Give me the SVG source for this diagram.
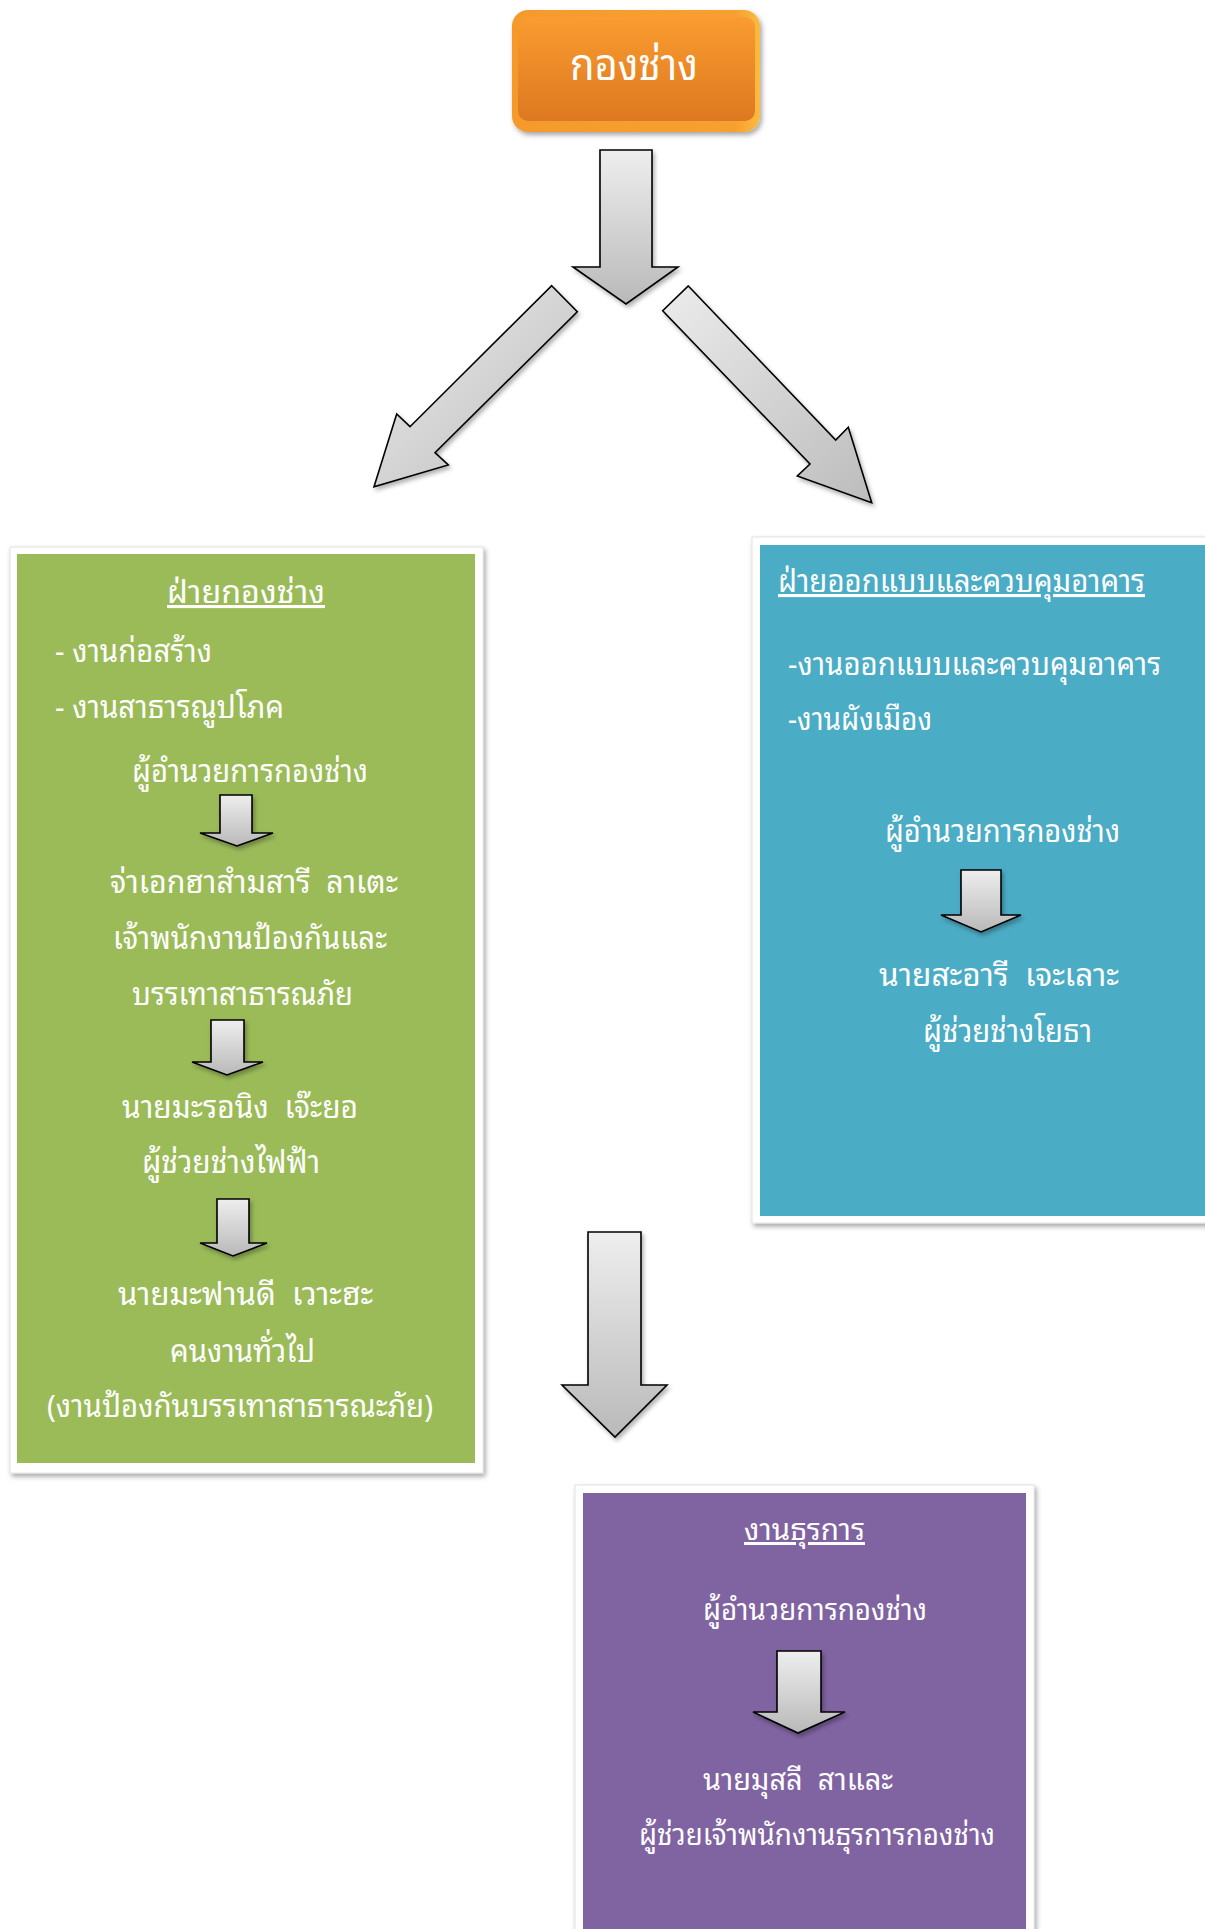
<svg xmlns="http://www.w3.org/2000/svg" width="1205" height="1929" viewBox="0 0 1205 1929">
<defs>
<linearGradient id="ag" x1="0" y1="0" x2="0" y2="1"><stop offset="0" stop-color="#eeeeee"/><stop offset="1" stop-color="#b9b9b9"/></linearGradient>
<linearGradient id="agd" x1="0" y1="0" x2="1" y2="1"><stop offset="0" stop-color="#ececec"/><stop offset="1" stop-color="#bcbcbc"/></linearGradient>
<linearGradient id="og" x1="0" y1="0" x2="0" y2="1"><stop offset="0" stop-color="#fa9c30"/><stop offset="1" stop-color="#dd7820"/></linearGradient>
<linearGradient id="orim" x1="0" y1="0" x2="1" y2="0"><stop offset="0" stop-color="#f59a2c"/><stop offset="0.9" stop-color="#f7a030"/><stop offset="1" stop-color="#fbbb40"/></linearGradient>
<filter id="sh" x="-10%" y="-10%" width="130%" height="130%"><feDropShadow dx="2" dy="3" stdDeviation="2.5" flood-color="#000" flood-opacity="0.35"/></filter>
<filter id="ash" x="-20%" y="-20%" width="150%" height="150%"><feDropShadow dx="2" dy="3" stdDeviation="2" flood-color="#000" flood-opacity="0.3"/></filter>
</defs>
<style>
.t{font-family:'Noto Sans Thai Looped','Garuda','Loma','Noto Sans Thai','Noto Sans','DejaVu Sans',sans-serif;fill:#ffffff;font-size:31px;white-space:pre}
.s{font-size:30px}
.big{font-size:44px}
.u{text-decoration:underline}
.arr{fill:url(#ag);stroke:#000;stroke-width:1.6;stroke-linejoin:miter;filter:url(#ash)}
.arrd{fill:url(#agd);stroke:#000;stroke-width:1.6;filter:url(#ash)}
.frame{fill:#ffffff;stroke:#e2e2e2;stroke-width:1;filter:url(#sh)}
</style>
<g id="connectors">
<polygon class="arr" points="600,150 652,150 652,267 678,267 626,304 573,267 600,267"/>
<polygon class="arrd" points="551.7,285.7 577.3,311.7 435,452.7 448.3,465 374,486.7 396.7,414 410,426.7"/>
<polygon class="arrd" points="688.3,286 835.7,440 848.3,427.3 871.7,502.7 797.3,476 810,464 662.7,310.7"/>
<polygon class="arr" points="588,1232 641,1232 641,1385 667,1385 615,1437 562,1385 588,1385"/>
</g>
<g id="node-top">
<rect x="512" y="10" width="248" height="122" rx="16" fill="url(#orim)" filter="url(#sh)"/>
<rect x="518" y="17" width="237" height="104" rx="10" fill="url(#og)"/>
<text class="t big" x="570" y="80" textLength="128" lengthAdjust="spacingAndGlyphs">กองช่าง</text>
</g>
<g id="node-green">
<rect class="frame" x="10" y="547" width="473" height="926"/>
<rect x="17" y="554" width="458" height="909" fill="#9bbb59"/>
<text class="t u" x="167" y="603" textLength="158" lengthAdjust="spacingAndGlyphs">ฝ่ายกองช่าง</text>
<text class="t" x="55" y="662" textLength="157" lengthAdjust="spacingAndGlyphs">- งานก่อสร้าง</text>
<text class="t" x="55" y="718" textLength="229" lengthAdjust="spacingAndGlyphs">- งานสาธารณูปโภค</text>
<text class="t" x="132" y="782" textLength="236" lengthAdjust="spacingAndGlyphs">ผู้อำนวยการกองช่าง</text>
<polygon class="arr" points="220,795 252,795 252,833 273,833 237,846 200,833 220,833"/>
<text class="t" x="110" y="893" textLength="288" lengthAdjust="spacingAndGlyphs">จ่าเอกฮาสำมสารี  ลาเตะ</text>
<text class="t" x="113" y="949" textLength="274" lengthAdjust="spacingAndGlyphs">เจ้าพนักงานป้องกันและ</text>
<text class="t" x="132" y="1005" textLength="221" lengthAdjust="spacingAndGlyphs">บรรเทาสาธารณภัย</text>
<polygon class="arr" points="211,1020 244,1020 244,1062 263,1062 227,1075 192,1062 211,1062"/>
<text class="t" x="122" y="1118" textLength="236" lengthAdjust="spacingAndGlyphs">นายมะรอนิง  เจ๊ะยอ</text>
<text class="t" x="142" y="1173" textLength="178" lengthAdjust="spacingAndGlyphs">ผู้ช่วยช่างไฟฟ้า</text>
<polygon class="arr" points="217,1199 249,1199 249,1243 267,1243 233,1256 200,1243 217,1243"/>
<text class="t" x="118" y="1305" textLength="255" lengthAdjust="spacingAndGlyphs">นายมะฟานดี  เวาะฮะ</text>
<text class="t" x="170" y="1362" textLength="145" lengthAdjust="spacingAndGlyphs">คนงานทั่วไป</text>
<text class="t" x="47" y="1417" textLength="386" lengthAdjust="spacingAndGlyphs">(งานป้องกันบรรเทาสาธารณะภัย)</text>
</g>
<g id="node-blue">
<rect class="frame" x="752" y="537" width="470" height="686"/>
<rect x="760" y="545" width="450" height="671" fill="#4bacc6"/>
<text class="t u" x="778" y="592" textLength="367" lengthAdjust="spacingAndGlyphs">ฝ่ายออกแบบและควบคุมอาคาร</text>
<text class="t" x="788" y="675" textLength="373" lengthAdjust="spacingAndGlyphs">-งานออกแบบและควบคุมอาคาร</text>
<text class="t" x="788" y="730" textLength="144" lengthAdjust="spacingAndGlyphs">-งานผังเมือง</text>
<text class="t" x="885" y="842" textLength="235" lengthAdjust="spacingAndGlyphs">ผู้อำนวยการกองช่าง</text>
<polygon class="arr" points="961,870 1001,870 1001,915 1021,915 981,932 941,915 961,915"/>
<text class="t" x="879" y="986" textLength="240" lengthAdjust="spacingAndGlyphs">นายสะอารี  เจะเลาะ</text>
<text class="t" x="923" y="1042" textLength="169" lengthAdjust="spacingAndGlyphs">ผู้ช่วยช่างโยธา</text>
</g>
<g id="node-purple">
<rect class="frame" x="575" y="1485" width="459" height="460"/>
<rect x="583" y="1493" width="443" height="440" fill="#8064a2"/>
<text class="t s u" x="744" y="1540" textLength="121" lengthAdjust="spacingAndGlyphs">งานธุรการ</text>
<text class="t s" x="703" y="1620" textLength="224" lengthAdjust="spacingAndGlyphs">ผู้อำนวยการกองช่าง</text>
<polygon class="arr" points="777,1651 821,1651 821,1712 845,1712 798,1733 753,1712 777,1712"/>
<text class="t s" x="703" y="1790" textLength="190" lengthAdjust="spacingAndGlyphs">นายมุสลี  สาและ</text>
<text class="t s" x="639" y="1845" textLength="356" lengthAdjust="spacingAndGlyphs">ผู้ช่วยเจ้าพนักงานธุรการกองช่าง</text>
</g>
</svg>
